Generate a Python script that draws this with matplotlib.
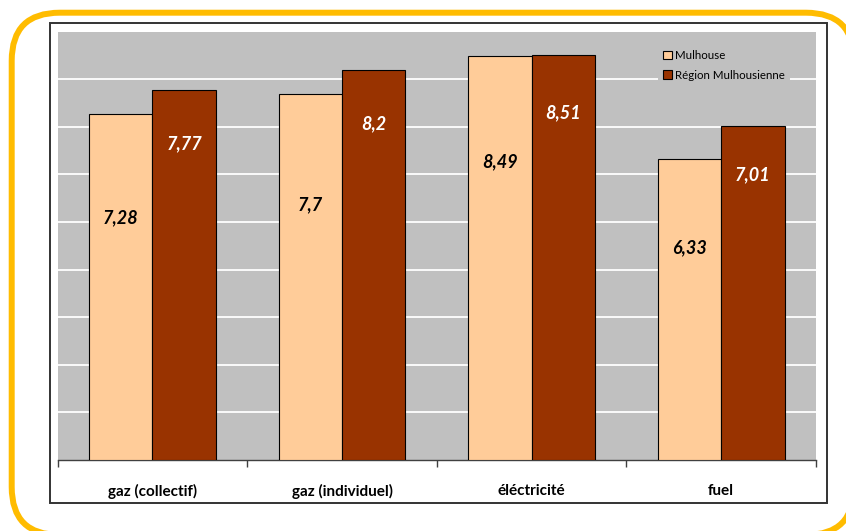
import matplotlib
matplotlib.use("Agg")
import matplotlib.pyplot as plt
from matplotlib.patches import FancyBboxPatch, Rectangle
import numpy as np

categories = ["gaz (collectif)", "gaz (individuel)", "éléctricité", "fuel"]
mulhouse = [7.28, 7.7, 8.49, 6.33]
region = [7.77, 8.2, 8.51, 7.01]
series_names = ["Mulhouse", "Région Mulhousienne"]

# vertical placement of the value labels (data units)
mulhouse_label_y = [5.08, 5.36, 6.27, 4.45]
region_label_y = [6.64, 7.07, 7.30, 5.99]

FONT = ["Lato", "DejaVu Sans"]
plt.rcParams["font.family"] = FONT

W, H = 846, 531
fig = plt.figure(figsize=(W / 100, H / 100), dpi=100)

# background decoration in pixel coordinates
bg = fig.add_axes([0, 0, 1, 1], zorder=0)
bg.set_xlim(0, W)
bg.set_ylim(H, 0)
bg.axis("off")
r = 48
x0, y0, x1, y1 = 11.7, 12.7, 854, 535
bg.add_patch(FancyBboxPatch((x0 + r, y0 + r), x1 - x0 - 2 * r, y1 - y0 - 2 * r,
                            boxstyle=f"round,pad={r}", fc="white", ec="#FFBC00",
                            lw=4.3, clip_on=False))
bg.add_patch(Rectangle((50, 22.7), 777.3, 480, fc="white", ec="#333333", lw=1.4))

ax = fig.add_axes([57.7 / W, 1 - 460 / H, (816 - 57.7) / W, (460 - 31.7) / H], zorder=2)
ax.set_facecolor("#C0C0C0")
x = np.arange(len(categories))
w = 0.334

for g in range(1, 9):
    ax.axhline(g, color="white", lw=1.3, zorder=1)

b1 = ax.bar(x - w / 2, mulhouse, w, color="#FFCC99", edgecolor="black", lw=0.8,
            zorder=3, label=series_names[0])
b2 = ax.bar(x + w / 2, region, w, color="#993300", edgecolor="black", lw=0.8,
            zorder=3, label=series_names[1])

def fmt(v):
    return f"{v:g}".replace(".", ",")

for i in range(len(categories)):
    ax.text(x[i] - w / 2, mulhouse_label_y[i], fmt(mulhouse[i]), ha="center", va="center",
            fontsize=13, fontweight="bold", fontstyle="italic", color="black", zorder=4)
    ax.text(x[i] + w / 2, region_label_y[i], fmt(region[i]), ha="center", va="center",
            fontsize=13, fontweight="bold", fontstyle="italic", color="white", zorder=4)

ax.set_xlim(-0.5, len(categories) - 0.5)
ax.set_ylim(0, 9)
ax.set_yticks([])
for s in ["left", "right", "top"]:
    ax.spines[s].set_visible(False)
ax.spines["bottom"].set_color("#404040")
ax.spines["bottom"].set_linewidth(1.0)
ax.set_xticks(x)
ax.set_xticklabels(categories, fontsize=11, fontweight="bold")
ax.tick_params(axis="x", which="major", length=0, pad=17)
ax.set_xticks(np.arange(len(categories) + 1) - 0.5, minor=True)
ax.tick_params(axis="x", which="minor", length=5, color="#404040", width=1)

leg = ax.legend(loc="upper left", bbox_to_anchor=(0.7916, 0.968), borderaxespad=0,
                fontsize=8.3, frameon=True, facecolor="#C0C0C0", edgecolor="none",
                framealpha=1, fancybox=False, handlelength=0.8, handleheight=0.8,
                handletextpad=0.3, labelspacing=0.75, borderpad=0.4)
leg.set_zorder(5)
for h in leg.legend_handles:
    h.set_linewidth(0.8)

fig.savefig("out.png", dpi=100)
